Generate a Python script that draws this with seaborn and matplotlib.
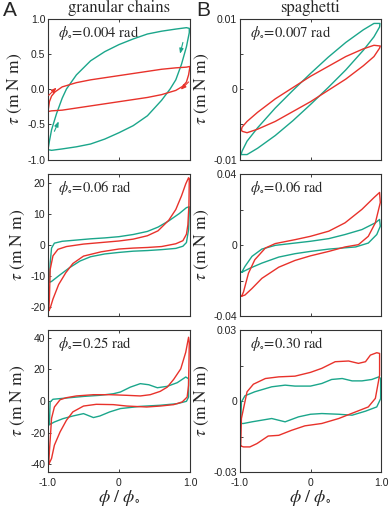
import seaborn as sns
import pandas as pd
import matplotlib.pyplot as plt

# granular chains, phi0 = 0.004 rad
a1_teal_x = [-1.0, -0.98, -0.95, -0.88, -0.8, -0.74, -0.6, -0.4, -0.2, 0.0, 0.2, 0.4, 0.6, 0.8, 0.95, 0.99,
             0.99, 0.95, 0.88, 0.8, 0.72, 0.6, 0.4, 0.2, 0.0, -0.2, -0.4, -0.6, -0.8, -0.95, -1.0]
a1_teal_y = [-0.86, -0.74, -0.58, -0.35, -0.13, 0.0, 0.2, 0.4, 0.53, 0.63, 0.71, 0.78, 0.82, 0.85, 0.87, 0.86,
             0.8, 0.6, 0.35, 0.13, 0.0, -0.16, -0.38, -0.52, -0.62, -0.71, -0.78, -0.82, -0.85, -0.87, -0.86]
a1_red_x = [-1.0, -0.98, -0.95, -0.9, -0.8, -0.6, -0.4, -0.2, 0.0, 0.2, 0.4, 0.6, 0.8, 0.95, 1.0,
            1.0, 0.98, 0.95, 0.9, 0.8, 0.6, 0.4, 0.2, 0.0, -0.2, -0.4, -0.6, -0.8, -0.95, -1.0]
a1_red_y = [-0.32, -0.18, -0.1, -0.04, 0.03, 0.09, 0.13, 0.16, 0.19, 0.22, 0.25, 0.28, 0.3, 0.31, 0.32,
            0.32, 0.2, 0.1, 0.04, -0.02, -0.08, -0.12, -0.15, -0.18, -0.21, -0.24, -0.27, -0.3, -0.31, -0.32]

# granular chains, phi0 = 0.06 rad
a2_teal_x = [-0.98, -0.97, -0.95, -0.91, -0.8, -0.6, -0.4, -0.2, 0.0, 0.2, 0.4, 0.55, 0.7, 0.85, 0.95, 0.99,
             0.99, 0.98, 0.95, 0.9, 0.8, 0.6, 0.4, 0.2, 0.0, -0.2, -0.4, -0.55, -0.7, -0.85, -0.95, -0.98]
a2_teal_y = [-12.1, -6.0, -1.0, 0.6, 1.2, 1.6, 2.0, 2.3, 2.7, 3.4, 4.4, 5.8, 7.8, 10.2, 12.1, 12.4,
             11.0, 5.0, 0.8, -0.4, -1.1, -1.5, -1.8, -2.0, -2.4, -2.9, -3.8, -5.2, -7.4, -10.0, -11.8, -12.1]
a2_red_x = [-0.99, -0.98, -0.97, -0.93, -0.86, -0.74, -0.5, -0.25, 0.0, 0.2, 0.4, 0.55, 0.7, 0.8, 0.88, 0.94,
            0.98, 0.99, 0.985, 0.97, 0.95, 0.9, 0.8, 0.6, 0.4, 0.2, 0.0, -0.25, -0.5, -0.65, -0.75, -0.85,
            -0.93, -0.97, -0.99]
a2_red_y = [-21.3, -17.5, -8.0, -3.5, -1.4, -0.5, 0.3, 0.8, 1.3, 1.9, 3.0, 4.6, 8.0, 11.5, 15.9, 19.8,
            21.8, 21.5, 13.0, 6.5, 3.5, 1.4, 0.4, -0.5, -0.8, -1.0, -1.3, -2.2, -3.6, -6.0, -9.0, -12.8,
            -17.5, -20.5, -21.3]

# granular chains, phi0 = 0.25 rad
a3_teal_x = [-0.98, -0.97, -0.93, -0.74, -0.5, -0.27, -0.08, 0.02, 0.16, 0.3, 0.42, 0.54, 0.68, 0.82, 0.94, 0.98,
             0.98, 0.95, 0.82, 0.58, 0.3, 0.02, -0.13, -0.27, -0.36, -0.5, -0.65, -0.79, -0.91, -0.98]
a3_teal_y = [-15.0, -0.6, 1.1, 1.9, 2.9, 3.6, 4.6, 5.7, 8.8, 11.0, 10.3, 8.4, 9.3, 11.6, 15.2, 14.1,
             2.5, -0.2, -1.7, -2.7, -3.4, -4.8, -6.9, -9.5, -10.5, -8.0, -9.5, -11.2, -13.3, -15.0]
a3_red_x = [-0.99, -0.98, -0.95, -0.91, -0.83, -0.74, -0.6, -0.36, -0.13, 0.11, 0.3, 0.44, 0.58, 0.68, 0.77,
            0.87, 0.94, 0.98, 0.99, 0.98, 0.96, 0.89, 0.77, 0.58, 0.39, 0.11, -0.08, -0.32, -0.5, -0.65,
            -0.74, -0.83, -0.91, -0.95, -0.99]
a3_red_y = [-40.2, -32.0, -11.0, -3.8, 0.8, 2.1, 3.2, 4.0, 4.0, 3.6, 3.2, 4.0, 6.1, 8.8, 13.7,
            20.4, 30.9, 40.4, 37.0, 10.0, 2.5, -0.6, -2.3, -3.2, -3.8, -3.2, -2.3, -2.1, -3.2, -6.9,
            -12.2, -19.6, -28.0, -36.4, -40.2]

# spaghetti, phi0 = 0.007 rad
b1_teal_x = [-0.985, -0.97, -0.9, -0.75, -0.5, -0.25, 0.0, 0.25, 0.5, 0.75, 0.9, 0.985,
             0.98, 0.9, 0.75, 0.5, 0.25, 0.0, -0.25, -0.5, -0.75, -0.9, -0.97, -0.985]
b1_teal_y = [-0.0093, -0.0088, -0.0074, -0.0055, -0.0027, -0.0002, 0.0022, 0.0045, 0.0066, 0.0084, 0.0093, 0.0093,
             0.0088, 0.0074, 0.0055, 0.0027, 0.0002, -0.0022, -0.0045, -0.0066, -0.0084, -0.0093, -0.0093, -0.0093]
b1_red_x = [-0.98, -0.97, -0.9, -0.75, -0.5, -0.25, 0.0, 0.25, 0.5, 0.75, 0.9, 0.99,
            0.98, 0.9, 0.75, 0.5, 0.25, 0.0, -0.25, -0.5, -0.75, -0.9, -0.97, -0.98]
b1_red_y = [-0.0058, -0.0054, -0.0046, -0.0033, -0.0014, 0.0002, 0.0018, 0.0032, 0.0046, 0.0057, 0.0062, 0.0061,
            0.0058, 0.0046, 0.0033, 0.0014, -0.0002, -0.0018, -0.0032, -0.0046, -0.0057, -0.0062, -0.006, -0.0058]

# spaghetti, phi0 = 0.06 rad
b2_teal_x = [-0.976, -0.93, -0.83, -0.69, -0.5, -0.22, 0.0, 0.26, 0.49, 0.73, 0.92, 0.98,
             0.99, 0.94, 0.82, 0.64, 0.45, 0.26, 0.0, -0.22, -0.45, -0.69, -0.86, -0.976]
b2_teal_y = [-0.0154, -0.0121, -0.0064, -0.0023, -0.0002, 0.0011, 0.0021, 0.0036, 0.0059, 0.0087, 0.0125, 0.0144,
             0.0106, 0.0059, 0.0011, -0.0011, -0.0017, -0.0023, -0.0036, -0.0049, -0.0068, -0.0102, -0.0131, -0.0154]
b2_red_x = [-0.976, -0.95, -0.88, -0.79, -0.64, -0.5, -0.22, 0.0, 0.26, 0.49, 0.73, 0.9, 0.98,
            0.99, 0.92, 0.82, 0.68, 0.49, 0.26, 0.0, -0.22, -0.45, -0.69, -0.83, -0.93, -0.976]
b2_red_y = [-0.0288, -0.0264, -0.0159, -0.0083, -0.0017, 0.0008, 0.003, 0.0049, 0.0078, 0.0125, 0.0201, 0.0267, 0.0296,
            0.0239, 0.0125, 0.0049, 0.0002, -0.0011, -0.0036, -0.0061, -0.0087, -0.0125, -0.0188, -0.0245, -0.0282, -0.0288]

# spaghetti, phi0 = 0.30 rad
b3_teal_x = [-0.99, -0.98, -0.93, -0.79, -0.55, -0.36, -0.22, 0.0, 0.16, 0.3, 0.45, 0.59, 0.73, 0.87, 0.97, 0.995,
             0.995, 0.94, 0.78, 0.59, 0.4, 0.16, 0.0, -0.17, -0.36, -0.55, -0.69, -0.83, -0.95, -0.99]
b3_teal_y = [-0.0095, -0.0004, 0.0022, 0.0039, 0.006, 0.0067, 0.0063, 0.0063, 0.0074, 0.0091, 0.0095, 0.0085, 0.0085,
             0.0091, 0.0102, 0.0095, 0.001, -0.0025, -0.0043, -0.006, -0.0056, -0.0053, -0.0056, -0.0067, -0.0088,
             -0.0074, -0.0081, -0.0088, -0.0095, -0.0095]
b3_red_x = [-0.99, -0.98, -0.9, -0.81, -0.64, -0.45, -0.22, 0.0, 0.16, 0.35, 0.54, 0.68, 0.78, 0.85, 0.94, 0.98,
            0.98, 0.92, 0.82, 0.64, 0.4, 0.16, -0.08, -0.27, -0.45, -0.6, -0.69, -0.76, -0.86, -0.95, -0.99]
b3_red_y = [-0.019, -0.0074, 0.0039, 0.0071, 0.0095, 0.0102, 0.0105, 0.0121, 0.0138, 0.0166, 0.0169, 0.0159, 0.0166,
            0.0194, 0.0204, 0.0201, 0.0109, 0.0011, -0.0025, -0.0046, -0.0074, -0.0095, -0.0105, -0.0124, -0.0145,
            -0.0148, -0.0166, -0.018, -0.0194, -0.0194, -0.019]

amplitudes = ['0.004', '0.06', '0.25', '0.007', '0.06', '0.30']
ylims = [1.0, 23, 45, 0.01, 0.04, 0.03]
yticks_a = [[-1.0, -0.5, 0, 0.5, 1.0], [-20, -10, 0, 10, 20], [-40, -20, 0, 20, 40]]
yticklabels_a = [['-1.0', '-0.5', '0.0', '0.5', '1.0'], ['-20', '-10', '0', '10', '20'],
                 ['-40', '-20', '0', '20', '40']]
yticks_b = [[-0.01, -0.005, 0, 0.005, 0.01], [-0.04, -0.02, 0, 0.02, 0.04], [-0.03, -0.015, 0, 0.015, 0.03]]
yticklabels_b = [['-0.01', '', '0', '', '0.01'], ['-0.04', '', '0', '', '0.04'], ['-0.03', '', '0', '', '0.03']]

teal = '#1ba68b'
red = '#e8322b'

sns.set_style("ticks")
plt.rcParams['font.family'] = ['Liberation Sans', 'DejaVu Sans']
plt.rcParams['mathtext.fontset'] = 'stix'
plt.rcParams['xtick.direction'] = 'in'
plt.rcParams['ytick.direction'] = 'in'
plt.rcParams['xtick.top'] = True
plt.rcParams['axes.edgecolor'] = '#333333'

fig = plt.figure(figsize=(3.9, 5.09), dpi=100)

loops = [
    (a1_teal_x, a1_teal_y, a1_red_x, a1_red_y),
    (a2_teal_x, a2_teal_y, a2_red_x, a2_red_y),
    (a3_teal_x, a3_teal_y, a3_red_x, a3_red_y),
    (b1_teal_x, b1_teal_y, b1_red_x, b1_red_y),
    (b2_teal_x, b2_teal_y, b2_red_x, b2_red_y),
    (b3_teal_x, b3_teal_y, b3_red_x, b3_red_y),
]

W, H = 390, 509
lefts = [48, 240]
rights = [190, 381]
tops = [18.5, 174, 330]
bottoms = [159.5, 316, 472]

axes = []
for i in range(6):
    col, row = i // 3, i % 3
    ax = fig.add_axes([lefts[col] / W, 1 - bottoms[row] / H,
                       (rights[col] - lefts[col]) / W, (bottoms[row] - tops[row]) / H])
    tx, ty, rx, ry = loops[i]
    df_t = pd.DataFrame({'x': tx, 'y': ty})
    df_r = pd.DataFrame({'x': rx, 'y': ry})
    sns.lineplot(data=df_t, x='x', y='y', sort=False, estimator=None, color=teal, lw=1.0, ax=ax)
    sns.lineplot(data=df_r, x='x', y='y', sort=False, estimator=None, color=red, lw=1.0, ax=ax)
    ax.set_xlim(-1, 1)
    ax.set_ylim(-ylims[i], ylims[i])
    ax.set_xticks([-1, 0, 1])
    if row == 2:
        ax.set_xticklabels(['-1.0', '0', '1.0'])
        ax.set_xlabel(r'$\phi\ /\ \phi_{\circ}$', fontsize=13, labelpad=0)
    else:
        ax.set_xticklabels([])
        ax.set_xlabel('')
    if col == 0:
        ax.set_yticks(yticks_a[row])
        ax.set_yticklabels(yticklabels_a[row])
    else:
        ax.set_yticks(yticks_b[row])
        ax.set_yticklabels(yticklabels_b[row])
    ax.set_ylabel(r'$\tau\ (\mathrm{m\ N\ m})$', fontsize=12.5, labelpad=2)
    ax.tick_params(labelsize=7.5, length=2.5, width=0.6, colors='#222222')
    ax.tick_params(axis='y', pad=2)
    ax.tick_params(axis='x', pad=4)
    for s in ax.spines.values():
        s.set_linewidth(0.8)
    ax.text(0.07, 0.9, r'$\phi_{\circ}\!=\!$' + amplitudes[i] + ' rad',
            transform=ax.transAxes, fontsize=10.5, va='center', family='STIXGeneral')
    axes.append(ax)

# direction arrows on the first panel
ax = axes[0]
arrows = [((-0.99, -0.09), (-0.88, 0.02), red), ((0.98, 0.1), (0.87, -0.01), red),
          ((0.9, 0.66), (0.86, 0.5), teal), ((-0.91, -0.6), (-0.85, -0.46), teal)]
for start, end, c in arrows:
    ax.annotate('', xy=end, xytext=start,
                arrowprops=dict(arrowstyle='-|>,head_length=0.5,head_width=0.2', color=c, lw=0.8,
                                mutation_scale=6, shrinkA=0, shrinkB=0))

fig.text(119 / W, 1 - 8 / H, 'granular chains', ha='center', va='center', fontsize=12, family='STIXGeneral')
fig.text(310 / W, 1 - 8 / H, 'spaghetti', ha='center', va='center', fontsize=12, family='STIXGeneral')
fig.text(3 / W, 1 - 11 / H, 'A', ha='left', va='center', fontsize=15)
fig.text(196 / W, 1 - 11 / H, 'B', ha='left', va='center', fontsize=15)

plt.savefig('out.png', dpi=100)
